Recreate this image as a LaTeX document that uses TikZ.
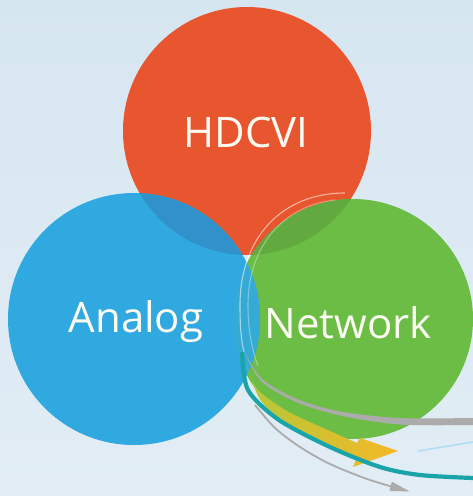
\documentclass[tikz,border=0pt]{standalone}
\usepackage{fontspec}
\setmainfont{Open Sans}
\usetikzlibrary{arrows.meta}
\definecolor{bgtop}{HTML}{D6E6F1}
\definecolor{bgbot}{HTML}{E2EDF5}
\definecolor{cred}{HTML}{E8562F}
\definecolor{cblue}{HTML}{30A8E0}
\definecolor{cgreen}{HTML}{6CBD45}
\definecolor{cbluered}{HTML}{3091CB}
\definecolor{cgreenred}{HTML}{62AA40}
\definecolor{swgray}{HTML}{ABABAB}
\definecolor{swteal}{HTML}{1AA3A8}
\definecolor{swyellow}{HTML}{F6B828}
\definecolor{swygreen}{HTML}{B4C838}
\definecolor{txt}{HTML}{FBFBF2}
\tikzset{
  lbl/.style={text=txt, font=\fontsize{42}{48}\selectfont, anchor=base, inner sep=0pt},
  thinring/.style={draw=white, draw opacity=0.55, line width=1.1pt}
}
\begin{document}
\begin{tikzpicture}[x=1pt,y=-1pt]
\useasboundingbox (0,0) rectangle (473,496);
\shade[top color=bgtop, bottom color=bgbot] (0,0) rectangle (473,496);
% circles
\fill[cred] (247,131) circle (124);
\fill[cgreen] (353,319) circle (120);
\fill[cblue] (134,319) circle (126);
% overlaps
\begin{scope}
  \clip (247,131) circle (124);
  \fill[cbluered] (134,319) circle (126);
\end{scope}
\begin{scope}
  \clip (247,131) circle (124);
  \fill[cgreenred] (353,319) circle (120);
\end{scope}
\begin{scope}
  \clip (134,319) circle (126);
  \fill[cblue!92!cgreen] (353,319) circle (120);
\end{scope}
% thin rings
\draw[thinring] (345,193) .. controls (280,193) and (240,240) .. (240,305) .. controls (240,325) and (241,340) .. (244,352);
\draw[thinring, draw opacity=0.35] (335,200) .. controls (285,205) and (248,245) .. (248,305) .. controls (248,330) and (252,350) .. (258,366);
% thick gray swoosh (tapered)
\fill[swgray] plot[smooth] coordinates {(243,349) (262,379) (297,399) (340,411.5) (400,418) (473,418)}
  -- plot[smooth] coordinates {(473,425) (400,424.5) (340,415.5) (296,402) (261,381) (243,349)} -- cycle;
% yellow arrow
\shade[left color=swygreen, right color=swyellow] plot[smooth] coordinates {(247,366) (257,389) (287,411) (330,431) (357,443)}
  -- (360,438) -- (398,451) -- (353,467) -- (356,459)
  -- plot[smooth] coordinates {(356,459) (330,445) (290,425) (261,401) (247,366)} -- cycle;
% teal swoosh
\draw[swteal, line width=4.2pt] plot[smooth] coordinates {(242,352) (248,390) (279,420) (330,447) (380,467) (420,475) (473,478)};
% thin gray arrow
\draw[swgray, line width=1.8pt, -{Triangle[length=20pt,width=9pt]}] plot[smooth] coordinates {(255,405) (275,428) (300,447) (330,464) (370,480) (410,491.5)};
% faint blue line
\draw[cblue!40!white, line width=1.4pt] (418,451) -- (473,442);
% labels
\node[lbl] (hdcvi) at (246,147) {HDCVI};
\node[lbl] (analog) at (136,332) {Analog};
\node[lbl] (network) at (348,338) {Network};
\end{tikzpicture}
\end{document}
